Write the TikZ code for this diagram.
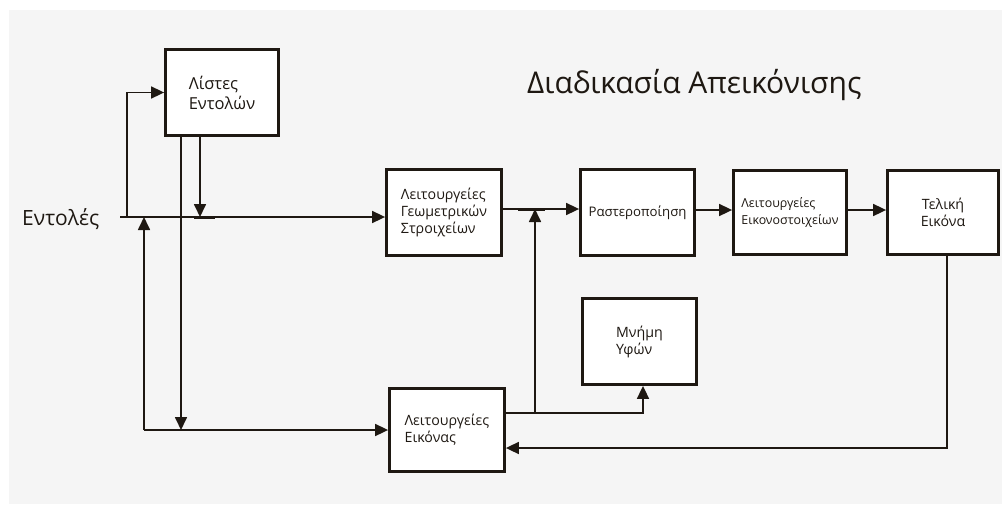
\documentclass[tikz,border=0pt]{standalone}
\usepackage{fontspec}
\setmainfont{Open Sans}
\usetikzlibrary{arrows.meta}
\definecolor{bgc}{HTML}{F5F5F5}
\definecolor{ink}{HTML}{1E1812}
\tikzset{
  box/.style={draw=ink, line width=2.8pt, fill=white, align=left, inner sep=2pt,
    font=\fontsize{14.2}{17}\selectfont, text=ink},
  conn/.style={draw=ink, line width=1.7pt},
  arr/.style={conn, -{Triangle[length=13pt,width=12pt]}},
  tee/.style={draw=ink, line width=3pt}
}
\begin{document}
\begin{tikzpicture}[x=1pt,y=-1pt]
\useasboundingbox (0,0) rectangle (1002,504);
\fill[white] (0,0) rectangle (1002,504);
\fill[bgc] (9,10) rectangle (1002,504);

% title and input label
\node[anchor=base west, inner sep=0pt, font=\fontsize{30}{35}\selectfont, text=ink] (title) at (527,93) {Διαδικασία Απεικόνισης};
\node[anchor=base west, inner sep=0pt, font=\fontsize{21}{25}\selectfont, text=ink] (cmds) at (22,225) {Εντολές};

% boxes
\node[box, minimum width=113pt, minimum height=86pt, font=\fontsize{16.5}{20}\selectfont] (lists) at (222,92.5) {Λίστες\\Εντολών};
\node[box, minimum width=115pt, minimum height=86pt] (geom) at (444,212.5) {Λειτουργείες\\Γεωμετρικών\\Στροιχείων};
\node[box, minimum width=114pt, minimum height=86pt, font=\fontsize{13.2}{17}\selectfont] (rast) at (637.5,212.5) {Ραστεροποίηση};
\node[box, minimum width=113pt, minimum height=84pt, font=\fontsize{12.4}{17}\selectfont] (pix) at (790,212.5) {Λειτουργείες\\Εικονοστοιχείων};
\node[box, minimum width=111pt, minimum height=84pt, align=center] (final) at (943,212.5) {Τελική\\Εικόνα};
\node[box, minimum width=114pt, minimum height=86pt] (tex) at (639.5,341.5) {Μνήμη\\Υφών};
\node[box, minimum width=115pt, minimum height=83pt] (img) at (447,430) {Λειτουργείες\\Εικόνας};

% junction coordinates
\coordinate (in) at (120,217);
\coordinate (up1) at (127,217);
\coordinate (d1) at (200,217);
\coordinate (bl) at (144,430);
\coordinate (d2) at (181,430);
\coordinate (ja) at (144,217);
\coordinate (m1) at (535,413);
\coordinate (m2) at (535,209);
\coordinate (m3) at (643,413);
\coordinate (r1) at (947,448);

% input line to geometry
\draw[arr] (in) -- (geom.west |- in);
% loop up to command lists
\draw[arr] (up1) |- (lists.west);
% lists down to input line
\draw[arr] (lists.south -| d1) -- (d1);
\draw[tee] (194,217) -- (215,217);
% lists down to bottom line
\draw[arr] (lists.south -| d2) -- (d2);
% bottom line up to input line
\draw[arr] (bl) -- (ja);
% bottom line to image ops
\draw[arr] (bl) -- (img.west |- bl);
% geometry to raster
\draw[arr] (geom.east |- m2) -- (rast.west |- m2);
\draw[tee] (518,209) -- (545,209);
% image ops up to geometry->raster line
\draw[conn] (img.east |- m1) -- (m1);
\draw[arr] (m1) -- (m2);
% image ops to texture memory
\draw[arr] (m1) -- (m3) -- (tex.south -| m3);
% raster -> pixel -> final
\draw[arr] (rast.east |- 0,210) -- (pix.west |- 0,210);
\draw[arr] (pix.east |- 0,210) -- (final.west |- 0,210);
% final back to image ops
\draw[arr] (final.south -| r1) -- (r1) -- (img.east |- r1);
\end{tikzpicture}
\end{document}
